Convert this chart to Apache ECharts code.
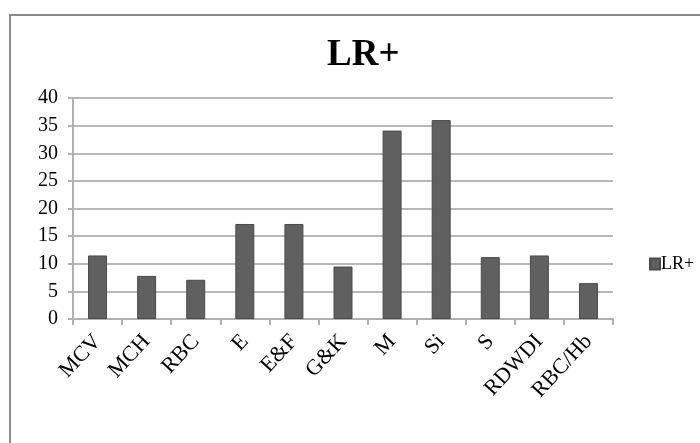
<!DOCTYPE html>
<html>
<head>
<meta charset="utf-8">
<script src="https://cdn.jsdelivr.net/npm/echarts@6/dist/echarts.min.js"></script>
<style>html,body{margin:0;padding:0;background:#fff;}#c{width:700px;height:443px;}</style>
</head>
<body>
<div id="c"></div>
<script>
const categories = ['MCV','MCH','RBC','E','E&F','G&K','M','Si','S','RDWDI','RBC/Hb'];
const lrPlus = [11.5, 7.8, 7.1, 17.2, 17.2, 9.5, 34.1, 36.0, 11.2, 11.5, 6.5];
const seriesName = 'LR+';
const yTicks = {min: 0, max: 40, interval: 5};

const serif = '"Liberation Serif","Times New Roman",serif';
const chart = echarts.init(document.getElementById('c'), null, {renderer: 'canvas'});
chart.setOption({
  backgroundColor: '#fff',
  animation: false,
  graphic: [{
    type: 'rect', left: 9, top: 14, z: -1,
    shape: {width: 720, height: 460},
    style: {fill: '#fff', stroke: '#8a8a8a', lineWidth: 2}
  }],
  title: {
    text: 'LR+', left: 322, top: 32,
    textStyle: {fontFamily: serif, fontWeight: 'bold', fontSize: 37, color: '#000'}
  },
  legend: {
    data: [seriesName], left: 649, top: 255, orient: 'vertical', padding: 0,
    itemWidth: 10, itemHeight: 11, itemGap: 0,
    icon: 'rect',
    textStyle: {fontFamily: serif, fontSize: 18, color: '#000', padding: [0,0,0,-4]}
  },
  grid: {left: 73, right: 87, top: 98, bottom: 124},
  xAxis: {
    type: 'category', data: categories,
    axisLine: {lineStyle: {color: '#b0b0b0', width: 2}},
    axisTick: {show: true, length: 6, lineStyle: {color: '#b0b0b0', width: 2}},
    axisLabel: {rotate: 47, margin: 19, interval: 0, fontFamily: serif, fontSize: 22, color: '#000'}
  },
  yAxis: {
    type: 'value', min: yTicks.min, max: yTicks.max, interval: yTicks.interval,
    axisLine: {show: true, lineStyle: {color: '#b0b0b0', width: 2}},
    axisTick: {show: true, length: 5, lineStyle: {color: '#b0b0b0', width: 2}},
    splitLine: {lineStyle: {color: '#b8b8b8', width: 2}},
    axisLabel: {margin: 15, fontFamily: serif, fontSize: 20, color: '#000'}
  },
  series: [{
    name: seriesName, type: 'bar', data: lrPlus, barWidth: 19,
    itemStyle: {color: '#606060', borderColor: '#4a4a4a', borderWidth: 1}
  }]
});
</script>
</body>
</html>
